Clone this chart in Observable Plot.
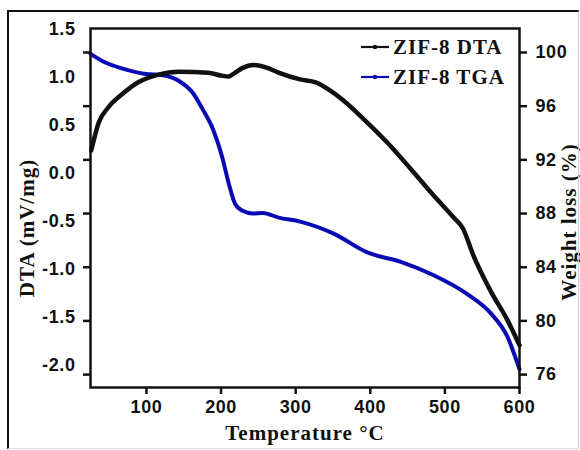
<!DOCTYPE html>
<html>
<head>
<meta charset="utf-8">
<script src="https://cdn.jsdelivr.net/npm/d3@7"></script>
<script src="https://cdn.jsdelivr.net/npm/@observablehq/plot@0.6"></script>
<style>
  html, body { margin: 0; padding: 0; background: #fff; }
  #wrap { position: relative; width: 580px; height: 450px; overflow: hidden; }
  #frame { position: absolute; left: 7px; top: 10px; width: 569px; height: 436px;
           border-left: 2px solid #111; border-top: 2px solid #111; border-bottom: 1px solid #ddd; border-right: 1px solid #ccc; }
  #legend { position: absolute; left: 360px; top: 32px; font-family: "Liberation Serif", serif;
            font-weight: bold; font-size: 21px; letter-spacing: 1px; color: #111; line-height: 30px; }
  #legend .row { display: flex; align-items: center; white-space: nowrap; }
  #legend svg { margin-right: 3px; }
  #chart svg g[aria-label="text"] text { letter-spacing: 1px; }
  #chart svg g[aria-label$="tick label"] text { letter-spacing: 0.6px; }
</style>
</head>
<body>
<div id="wrap">
  <div id="frame"></div>
  <div id="chart"></div>
  <div id="legend"></div>
</div>
<script>
// Temperature (°C) and DTA (mV/mg)
const dtaT = [26, 36, 49, 68, 89, 116, 143, 183, 200, 210, 217, 229, 243, 262, 277, 306, 327, 347, 364, 396, 423, 454, 485, 512, 524, 538, 561, 584, 600];
const dtaV = [0.24, 0.53, 0.69, 0.83, 0.95, 1.03, 1.06, 1.05, 1.02, 1.01, 1.04, 1.10, 1.13, 1.10, 1.05, 0.98, 0.95, 0.86, 0.76, 0.53, 0.32, 0.05, -0.23, -0.46, -0.57, -0.85, -1.22, -1.53, -1.79];
// Temperature (°C) and TGA weight (%)
const tgaT = [25, 45, 68, 99, 122, 143, 162, 175, 189, 202, 210, 219, 229, 242, 256, 277, 306, 351, 396, 441, 485, 530, 561, 584, 600];
const tgaW = [99.9, 99.25, 98.8, 98.4, 98.3, 97.9, 97.0, 95.8, 94.3, 92.1, 90.3, 88.7, 88.2, 88.0, 88.05, 87.7, 87.4, 86.5, 85.1, 84.4, 83.4, 82.0, 80.6, 78.8, 76.4];

const xTicks = [100, 200, 300, 400, 500, 600];
const dtaTicks = [1.5, 1.0, 0.5, 0.0, -0.5, -1.0, -1.5, -2.0];
const tgaTicks = [100, 96, 92, 88, 84, 80, 76];
const seriesNames = ["ZIF-8 DTA", "ZIF-8 TGA"];
const seriesColors = ["#111111", "#0a0ab4"];

// Right axis (weight %) mapped onto the left (DTA) scale
const tgaToDta = d3.scaleLinear().domain([76, 100]).range([-2.0946, 1.2604]);

const dta = dtaT.map((t, i) => ({t, v: dtaV[i]}));
const tga = tgaT.map((t, i) => ({t, v: tgaToDta(tgaW[i])}));

const serif = "'Liberation Serif', 'Times New Roman', serif";

const chart = Plot.plot({
  width: 580,
  height: 450,
  marginLeft: 90,
  marginRight: 61,
  marginTop: 28,
  marginBottom: 63,
  style: {fontFamily: "'Liberation Sans', Arial, sans-serif", fontWeight: "bold", fontSize: "18px", color: "#111", background: "transparent", overflow: "visible"},
  x: {domain: [25, 600]},
  y: {domain: [-2.229, 1.5104]},
  marks: [
    Plot.line(tga, {x: "t", y: "v", stroke: seriesColors[1], strokeWidth: 4, curve: "monotone-x"}),
    Plot.line(dta, {x: "t", y: "v", stroke: seriesColors[0], strokeWidth: 4.5, curve: "monotone-x"}),
    Plot.frame({stroke: "#111", strokeWidth: 2.5}),
    Plot.axisX({ticks: xTicks, tickSize: 7, tickPadding: 6, strokeWidth: 2.5, label: null, tickFormat: d => String(d)}),
    Plot.axisY({anchor: "left", ticks: dtaTicks, tickSize: 0, tickPadding: 15, label: null, tickFormat: d => d.toFixed(1)}),
    Plot.axisY(tgaTicks.map(tgaToDta), {anchor: "left", tickSize: 7, strokeWidth: 2.5, label: null, tickFormat: () => ""}),
    Plot.axisY(tgaTicks.map(tgaToDta), {anchor: "right", tickSize: 7, tickPadding: 9, strokeWidth: 2.5, label: null,
      tickFormat: d => String(Math.round(tgaToDta.invert(d)))}),
    Plot.text(["Temperature °C"], {frameAnchor: "bottom", dy: 52, fontFamily: serif, fontWeight: "bold", fontSize: 21}),
    Plot.text(["DTA (mV/mg)"], {frameAnchor: "left", textAnchor: "middle", rotate: -90, dx: -63, dy: 20, fontFamily: serif, fontWeight: "bold", fontSize: 21}),
    Plot.text(["Weight loss (%)"], {frameAnchor: "right", textAnchor: "middle", rotate: -90, dx: 50, dy: 14, fontFamily: serif, fontWeight: "bold", fontSize: 21})
  ]
});
document.getElementById("chart").appendChild(chart);

const legend = document.getElementById("legend");
seriesNames.forEach((name, i) => {
  const row = document.createElement("div");
  row.className = "row";
  row.innerHTML = `<svg width="30" height="10"><line x1="1" y1="5" x2="29" y2="5" stroke="${seriesColors[i]}" stroke-width="2.2"/><circle cx="15" cy="5" r="2.2" fill="${seriesColors[i]}"/></svg><span>${name}</span>`;
  legend.appendChild(row);
});
</script>
</body>
</html>
